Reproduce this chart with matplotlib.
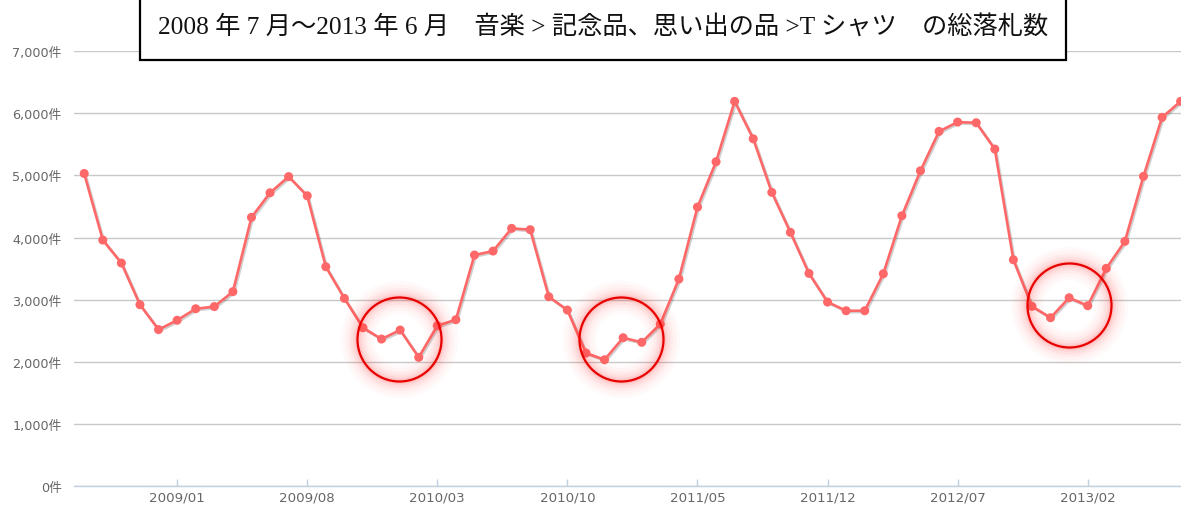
import matplotlib
matplotlib.use("Agg")
import matplotlib.pyplot as plt
import matplotlib.patheffects as pe
from matplotlib.patches import Rectangle
from matplotlib.ticker import FuncFormatter

# ---- data ----
values = [5030, 3960, 3590, 2920, 2520, 2670, 2855, 2890, 3130, 4325,
          4720, 4980, 4672, 3531, 3022, 2550, 2368, 2513, 2074, 2582,
          2679, 3719, 3783, 4148, 4126, 3048, 2834, 2143, 2035, 2389,
          2315, 2609, 3333, 4490, 5219, 6190, 5588, 4727, 4084, 3424,
          2963, 2823, 2823, 3418, 4351, 5074, 5707, 5857, 5846, 5423,
          3643, 2894, 2711, 3032, 2904, 3505, 3939, 4984, 5932, 6190]
tick_idx = [5, 12, 19, 26, 33, 40, 47, 54]
tick_labels = ["2009/01", "2009/08", "2010/03", "2010/10",
               "2011/05", "2011/12", "2012/07", "2013/02"]
y_ticks = [0, 1000, 2000, 3000, 4000, 5000, 6000, 7000]
# highlighted regions (center month index, center value)
circle_x = [16.93, 28.87, 52.97]
circle_y = [2371, 2371, 2913]
title = "2008 年 7 月～2013 年 6 月　音楽 > 記念品、思い出の品 >T シャツ　の総落札数"

W, H = 1181, 506
fig = plt.figure(figsize=(W / 100, H / 100), dpi=100)
ax_left, ax_right, ax_bottom, ax_top = 74, 1181, 487.3, 52
ax = fig.add_axes([ax_left / W, (H - ax_bottom) / H,
                   (ax_right - ax_left) / W, (ax_bottom - ax_top) / H])

x = list(range(len(values)))
line_col = "#ff6868"
ax.plot(x, values, color=line_col, lw=1.9, marker="o", ms=6.5,
        markeredgewidth=0, clip_on=False, zorder=3,
        path_effects=[pe.SimpleLineShadow(offset=(1, -1), alpha=0.18, shadow_color="#000000"),
                      pe.Normal()])

ax.set_xlim(-0.55, 59.02)
ax.set_ylim(0, 7000)
ax.set_yticks(y_ticks)
ax.yaxis.set_major_formatter(FuncFormatter(lambda v, p: f"{int(v):,}件"))
ax.set_xticks(tick_idx)
ax.set_xticklabels(tick_labels)

lbl_font = ["DejaVu Sans", "Noto Sans CJK JP"]
for t in ax.get_yticklabels():
    t.set_fontfamily(lbl_font)
for t in ax.get_xticklabels():
    t.set_fontfamily(lbl_font)

ax.tick_params(axis="y", length=0, pad=9, labelsize=9.2, labelcolor="#666666")
ax.tick_params(axis="x", direction="in", length=5, width=1, color="#c0d0e0",
               pad=3, labelsize=9.6, labelcolor="#666666")
ax.grid(axis="y", color="#c8c8c8", lw=1)
ax.set_axisbelow(True)
for s in ["top", "right", "left"]:
    ax.spines[s].set_visible(False)
ax.spines["bottom"].set_color("#c0d0e0")
ax.spines["bottom"].set_linewidth(1)
ax.spines["bottom"].set_zorder(2.5)

# highlight circles with soft glow
ms_c = 60.5
for lw, a in [(24, 0.02), (19, 0.03), (14, 0.04), (10, 0.055), (6, 0.07), (3.5, 0.09)]:
    ax.plot(circle_x, circle_y, ls="none", marker="o", ms=ms_c, mfc="none",
            mec="#ff3030", mew=lw, alpha=a, zorder=4, clip_on=False)
ax.plot(circle_x, circle_y, ls="none", marker="o", ms=ms_c, mfc="none",
        mec="#e80000", mew=1.6, zorder=5, clip_on=False)

# title box
bx0, bx1, by1 = 140, 1066, 61
rect = Rectangle((bx0 / W, (H - by1) / H), (bx1 - bx0) / W, 0.3,
                 transform=fig.transFigure, facecolor="white",
                 edgecolor="black", lw=1.6, zorder=10)
fig.patches.append(rect)
fig.text((bx0 + bx1) / 2 / W, (H - 27) / H, title, ha="center", va="center",
         fontsize=18.2, color="#111111", zorder=11,
         family=["Liberation Serif", "Noto Sans CJK JP"])

fig.savefig("out.png", dpi=100)
